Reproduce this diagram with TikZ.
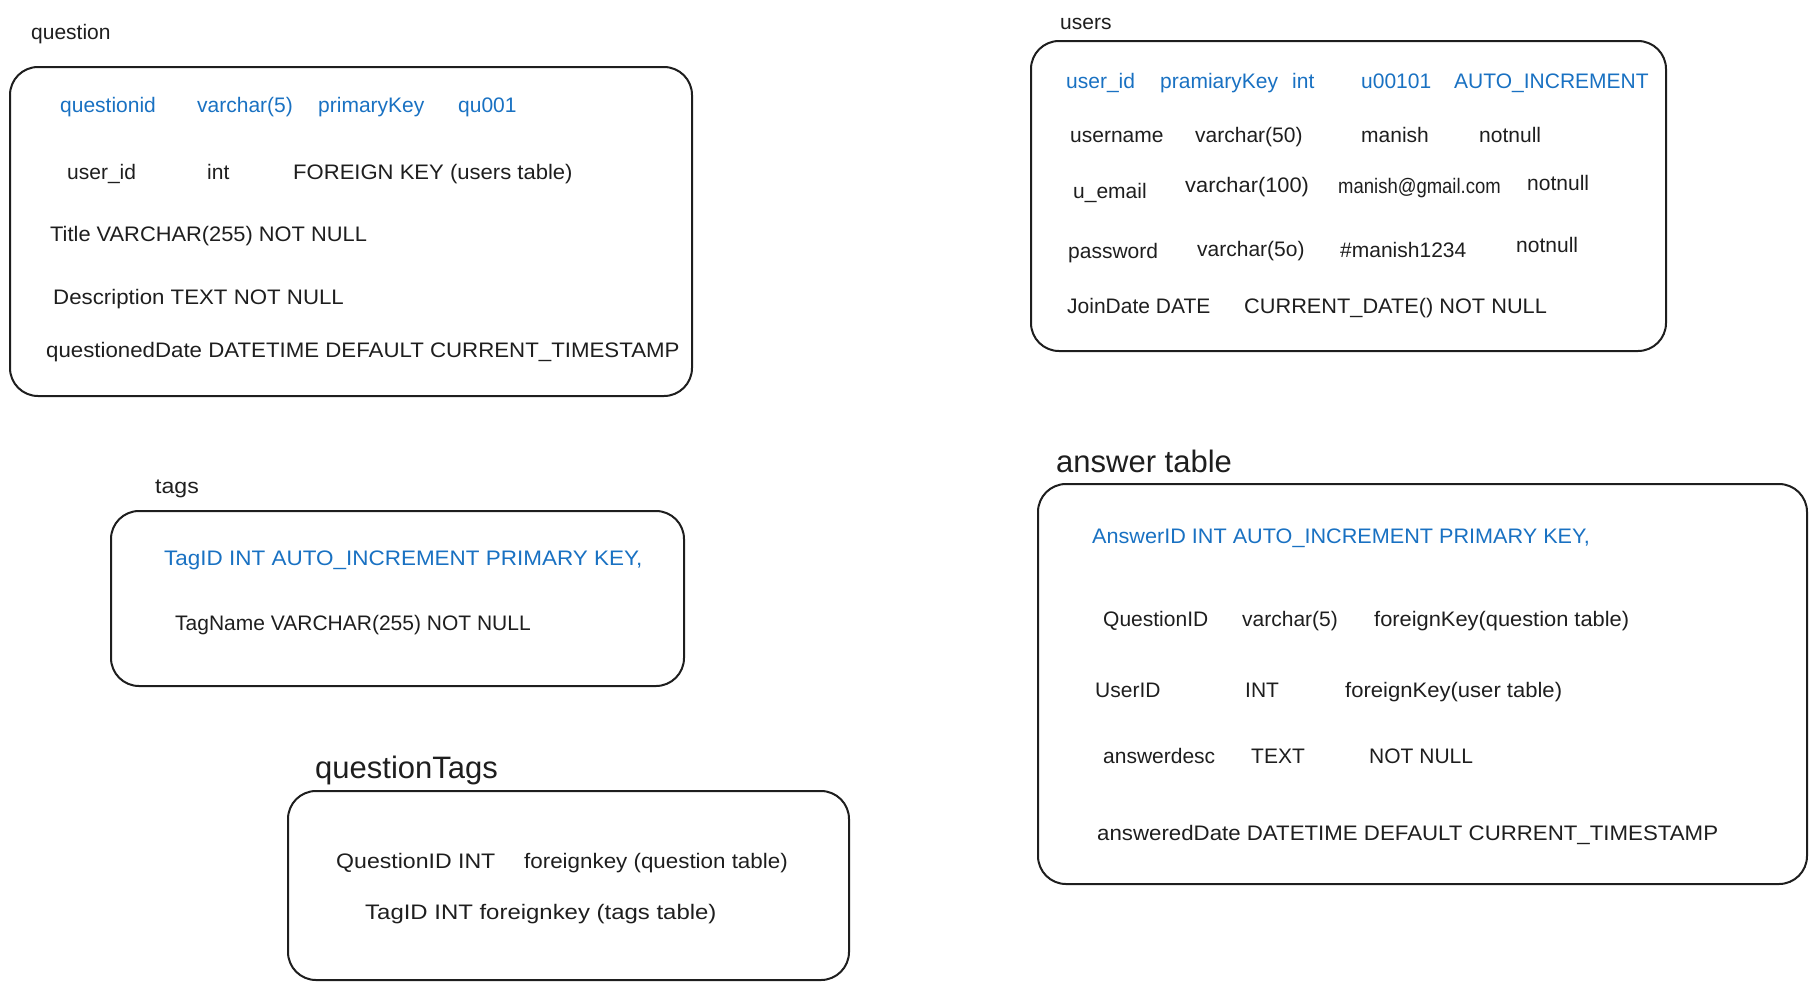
\documentclass[tikz,border=0pt]{standalone}
\usepackage{graphicx}
\usepackage{fontspec}
\setmainfont{Liberation Sans}
\definecolor{inkblue}{HTML}{1971C2}
\definecolor{ink}{HTML}{1E1E1E}
\newcommand{\hsx}[2]{\scalebox{#1}[1]{#2}}
\begin{document}
\begin{tikzpicture}[x=1pt,y=-1pt,
  tbl/.style={draw=ink, line width=2pt, rounded corners=28pt, anchor=north west, inner sep=0pt},
  txt/.style={anchor=base west, inner sep=0pt, font=\fontsize{21}{25}\selectfont, text=ink},
  key/.style={txt, text=inkblue},
  lbl/.style={anchor=base west, inner sep=0pt, font=\fontsize{21}{25}\selectfont, text=ink},
  biglbl/.style={anchor=base west, inner sep=0pt, font=\fontsize{31}{36}\selectfont, text=ink}]
\useasboundingbox (0,0) rectangle (1815,989);

% ---------- question ----------
\node[lbl] (qlabel) at (31,39) {question};
\node[tbl, minimum width=682pt, minimum height=329pt] (qbox) at (9,66) {};
\node[key] (q1a) at (60,112) {questionid};
\node[key] (q1b) at (197,112) {varchar(5)};
\node[key] (q1c) at (318,112) {primaryKey};
\node[key] (q1d) at (458,112) {qu001};
\node[txt] (q2a) at (67,179) {user\_id};
\node[txt] (q2b) at (207,179) {int};
\node[txt] (q2c) at (293,179) {\hsx{1.05}{FOREIGN KEY (users table)}};
\node[txt] (q3) at (50,241) {\hsx{1.04}{Title VARCHAR(255) NOT NULL}};
\node[txt] (q4) at (53,304) {\hsx{1.06}{Description TEXT NOT NULL}};
\node[txt] (q5) at (46,357) {\hsx{1.06}{questionedDate DATETIME DEFAULT CURRENT\_TIMESTAMP}};

% ---------- users ----------
\node[lbl] (ulabel) at (1060,29) {users};
\node[tbl, minimum width=635pt, minimum height=310pt] (ubox) at (1030,40) {};
\node[key] (u1a) at (1066,88) {user\_id};
\node[key] (u1b) at (1160,88) {pramiaryKey};
\node[key] (u1c) at (1292,88) {int};
\node[key] (u1d) at (1361,88) {u00101};
\node[key] (u1e) at (1454,88) {AUTO\_INCREMENT};
\node[txt] (u2a) at (1070,142) {username};
\node[txt] (u2b) at (1195,142) {varchar(50)};
\node[txt] (u2c) at (1361,142) {manish};
\node[txt] (u2d) at (1479,142) {notnull};
\node[txt] (u3a) at (1073,198) {u\_email};
\node[txt] (u3b) at (1185,192) {\hsx{1.04}{varchar(100)}};
\node[txt] (u3c) at (1338,193) {\hsx{0.88}{manish@gmail.com}};
\node[txt] (u3d) at (1527,190) {notnull};
\node[txt] (u4a) at (1068,258) {password};
\node[txt] (u4b) at (1197,256) {varchar(5o)};
\node[txt] (u4c) at (1340,257) {\#manish1234};
\node[txt] (u4d) at (1516,252) {notnull};
\node[txt] (u5a) at (1067,313) {JoinDate DATE};
\node[txt] (u5b) at (1244,313) {\hsx{1.035}{CURRENT\_DATE() NOT NULL}};

% ---------- tags ----------
\node[lbl] (tlabel) at (155,493) {\hsx{1.1}{tags}};
\node[tbl, minimum width=573pt, minimum height=175pt] (tbox) at (110,510) {};
\node[key] (t1) at (164,565) {\hsx{1.07}{TagID INT AUTO\_INCREMENT PRIMARY KEY,}};
\node[txt] (t2) at (175,630) {TagName VARCHAR(255) NOT NULL};

% ---------- questionTags ----------
\node[biglbl] (qtlabel) at (315,778) {questionTags};
\node[tbl, minimum width=561pt, minimum height=189pt] (qtbox) at (287,790) {};
\node[txt] (qt1a) at (336,868) {\hsx{1.1}{QuestionID INT}};
\node[txt] (qt1b) at (524,868) {\hsx{1.065}{foreignkey (question table)}};
\node[txt] (qt2) at (365,919) {\hsx{1.14}{TagID INT foreignkey (tags table)}};

% ---------- answer table ----------
\node[biglbl] (alabel) at (1056,472) {answer table};
\node[tbl, minimum width=769pt, minimum height=400pt] (abox) at (1037,483) {};
\node[key] (a1) at (1092,543) {\hsx{1.03}{AnswerID INT AUTO\_INCREMENT PRIMARY KEY,}};
\node[txt] (a2a) at (1103,626) {QuestionID};
\node[txt] (a2b) at (1242,626) {varchar(5)};
\node[txt] (a2c) at (1374,626) {\hsx{1.04}{foreignKey(question table)}};
\node[txt] (a3a) at (1095,697) {UserID};
\node[txt] (a3b) at (1245,697) {INT};
\node[txt] (a3c) at (1345,697) {\hsx{1.05}{foreignKey(user table)}};
\node[txt] (a4a) at (1103,763) {answerdesc};
\node[txt] (a4b) at (1251,763) {TEXT};
\node[txt] (a4c) at (1369,763) {NOT NULL};
\node[txt] (a5) at (1097,840) {\hsx{1.06}{answeredDate DATETIME DEFAULT CURRENT\_TIMESTAMP}};
\end{tikzpicture}
\end{document}
